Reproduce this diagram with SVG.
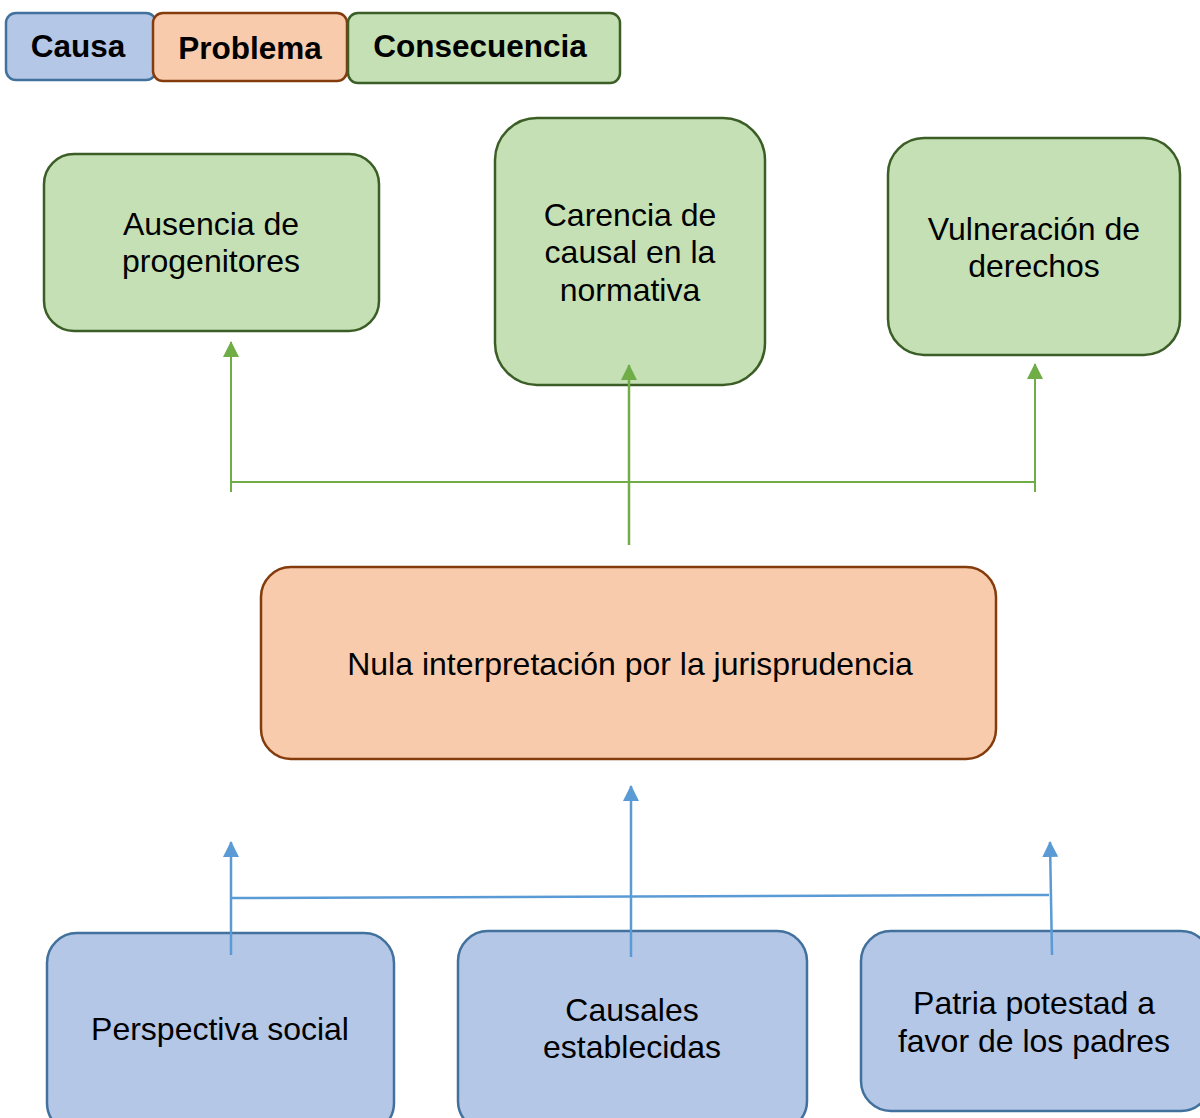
<svg xmlns="http://www.w3.org/2000/svg" width="1200" height="1118" viewBox="0 0 1200 1118">
<defs>
<style>
.t{font-family:"Liberation Sans",Arial,sans-serif;font-size:32px;fill:#000;text-anchor:middle}
.b{font-weight:bold;font-size:31.5px}
.g{fill:#C5E0B4;stroke:#3B5E26;stroke-width:2.5}
.o{fill:#F8CBAD;stroke:#843C0C;stroke-width:2.5}
.c{fill:#B4C7E7;stroke:#41719C;stroke-width:2.5}
.lg{stroke:#70AD47;stroke-width:2;fill:none}
.lb{stroke:#5B9BD5;stroke-width:2.5;fill:none}
</style>
<marker id="ag" markerUnits="userSpaceOnUse" markerWidth="16" markerHeight="16" viewBox="0 0 16 16" refX="15" refY="8" orient="auto">
<path d="M0,0 L16,8 L0,16 Z" fill="#70AD47"/>
</marker>
<marker id="ab" markerUnits="userSpaceOnUse" markerWidth="16" markerHeight="16" viewBox="0 0 16 16" refX="15" refY="8" orient="auto">
<path d="M0,0 L16,8 L0,16 Z" fill="#5B9BD5"/>
</marker>
</defs>

<g id="legend">
<g id="leg-causa"><rect class="c" x="6" y="13" width="150" height="67" rx="10"/><text class="t b" x="78" y="57">Causa</text></g>
<g id="leg-problema"><rect class="o" x="153" y="13" width="194" height="68" rx="10"/><text class="t b" x="250" y="59">Problema</text></g>
<g id="leg-consecuencia"><rect class="g" x="348" y="13" width="272" height="70" rx="10"/><text class="t b" x="480" y="57">Consecuencia</text></g>
</g>

<g id="n-ausencia"><rect class="g" x="44" y="154" width="335" height="177" rx="30"/>
<text class="t" x="211" y="235">Ausencia de</text><text class="t" x="211" y="272">progenitores</text></g>
<g id="n-carencia"><rect class="g" x="495" y="118" width="270" height="267" rx="42"/>
<text class="t" x="630" y="226">Carencia de</text><text class="t" x="630" y="263">causal en la</text><text class="t" x="630" y="301">normativa</text></g>
<g id="n-vulneracion"><rect class="g" x="888" y="138" width="292" height="217" rx="36"/>
<text class="t" x="1034" y="240">Vulneración de</text><text class="t" x="1034" y="277">derechos</text></g>

<g id="n-nula"><rect class="o" x="261" y="567" width="735" height="192" rx="30"/>
<text class="t" x="630" y="675">Nula interpretación por la jurisprudencia</text></g>

<g id="n-perspectiva"><rect class="c" x="47" y="933" width="347" height="200" rx="30"/>
<text class="t" x="220" y="1040">Perspectiva social</text></g>
<g id="n-causales"><rect class="c" x="458" y="931" width="349" height="200" rx="30"/>
<text class="t" x="632" y="1021">Causales</text><text class="t" x="632" y="1058">establecidas</text></g>
<g id="n-patria"><rect class="c" x="861" y="931" width="350" height="180" rx="30"/>
<text class="t" x="1034" y="1014">Patria potestad a</text><text class="t" x="1034" y="1052">favor de los padres</text></g>

<g id="connectors">
<line class="lg" x1="231" y1="492" x2="231" y2="342" marker-end="url(#ag)"/>
<line class="lg" x1="231" y1="482" x2="1035" y2="482"/>
<line class="lg" x1="629" y1="545" x2="629" y2="365" marker-end="url(#ag)" style="stroke-width:2.5"/>
<line class="lg" x1="1035" y1="492" x2="1035" y2="364" marker-end="url(#ag)"/>
<line class="lb" x1="631" y1="957" x2="631" y2="786" marker-end="url(#ab)"/>
<line class="lb" x1="231" y1="955" x2="231" y2="842" marker-end="url(#ab)"/>
<line class="lb" x1="231" y1="898" x2="1049" y2="895"/>
<line class="lb" x1="1052" y1="955" x2="1050" y2="842" marker-end="url(#ab)"/>
</g>
</svg>
